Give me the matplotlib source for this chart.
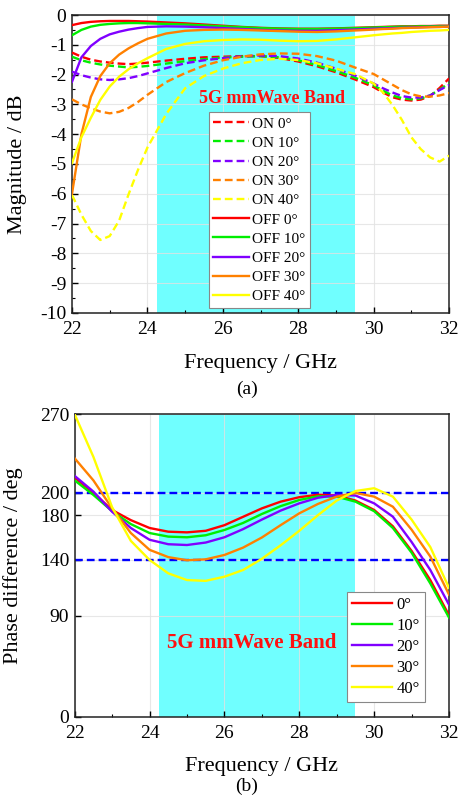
import numpy as np
import matplotlib
matplotlib.use("Agg")
import matplotlib.pyplot as plt
from matplotlib.ticker import MultipleLocator, FixedLocator

plt.rcParams['font.family'] = ['Liberation Serif', 'DejaVu Serif']
plt.rcParams['axes.unicode_minus'] = False

# ---------------- data: (a) magnitude ----------------
freq_a = [22, 22.25, 22.5, 22.75, 23, 23.25, 23.5, 23.75, 24,
          24.5, 25, 25.5, 26, 26.5, 27, 27.5, 28, 28.5, 29, 29.5,
          30, 30.25, 30.5, 30.75, 31, 31.25, 31.5, 31.75, 32]

on_0 = [-1.26, -1.40, -1.50, -1.56, -1.60, -1.63, -1.65, -1.63, -1.60,
        -1.53, -1.47, -1.42, -1.40, -1.38, -1.38, -1.44, -1.56, -1.72, -1.92, -2.16,
        -2.42, -2.60, -2.76, -2.84, -2.87, -2.84, -2.72, -2.45, -2.13]
on_10 = [-1.40, -1.52, -1.60, -1.66, -1.70, -1.73, -1.76, -1.74, -1.71,
         -1.63, -1.55, -1.48, -1.43, -1.40, -1.38, -1.42, -1.52, -1.68, -1.88, -2.10,
         -2.36, -2.54, -2.70, -2.79, -2.83, -2.80, -2.70, -2.50, -2.30]
on_20 = [-1.90, -2.02, -2.10, -2.16, -2.18, -2.16, -2.12, -2.05, -1.96,
         -1.78, -1.62, -1.52, -1.45, -1.39, -1.36, -1.38, -1.46, -1.60, -1.80, -2.03,
         -2.30, -2.46, -2.60, -2.72, -2.77, -2.77, -2.70, -2.52, -2.35]
on_30 = [-2.83, -3.00, -3.13, -3.24, -3.30, -3.25, -3.12, -2.92, -2.68,
         -2.25, -1.95, -1.70, -1.52, -1.40, -1.32, -1.29, -1.30, -1.38, -1.53, -1.76,
         -1.98, -2.16, -2.34, -2.52, -2.66, -2.73, -2.74, -2.70, -2.62]
on_40 = [-6.04, -6.70, -7.25, -7.55, -7.42, -6.90, -6.02, -5.20, -4.45,
         -3.32, -2.46, -2.05, -1.80, -1.62, -1.51, -1.47, -1.51, -1.62, -1.80, -1.98,
         -2.30, -2.60, -3.02, -3.52, -4.10, -4.50, -4.78, -4.92, -4.72]

off_0 = [-0.34, -0.27, -0.23, -0.21, -0.20, -0.20, -0.20, -0.21, -0.22,
         -0.25, -0.28, -0.32, -0.36, -0.40, -0.43, -0.45, -0.46, -0.46, -0.45, -0.43,
         -0.41, -0.40, -0.39, -0.38, -0.38, -0.37, -0.37, -0.36, -0.36]
off_10 = [-0.68, -0.50, -0.39, -0.33, -0.30, -0.28, -0.27, -0.27, -0.28,
          -0.30, -0.32, -0.35, -0.38, -0.41, -0.44, -0.46, -0.47, -0.47, -0.46, -0.44,
          -0.42, -0.41, -0.40, -0.39, -0.39, -0.38, -0.38, -0.37, -0.37]
off_20 = [-2.24, -1.42, -1.04, -0.80, -0.65, -0.56, -0.49, -0.44, -0.40,
          -0.38, -0.39, -0.41, -0.44, -0.47, -0.50, -0.52, -0.53, -0.53, -0.51, -0.49,
          -0.46, -0.45, -0.44, -0.43, -0.42, -0.41, -0.40, -0.40, -0.39]
off_30 = [-6.00, -4.00, -2.75, -2.05, -1.62, -1.33, -1.12, -0.95, -0.80,
          -0.62, -0.53, -0.50, -0.49, -0.50, -0.52, -0.54, -0.56, -0.57, -0.55, -0.52,
          -0.49, -0.47, -0.46, -0.44, -0.43, -0.42, -0.41, -0.40, -0.39]
off_40 = [-4.97, -4.10, -3.45, -2.85, -2.40, -2.07, -1.82, -1.62, -1.45,
          -1.14, -0.97, -0.88, -0.84, -0.82, -0.83, -0.86, -0.88, -0.87, -0.82, -0.75,
          -0.68, -0.65, -0.62, -0.60, -0.57, -0.55, -0.53, -0.52, -0.50]

angle_labels = ['0°', '10°', '20°', '30°', '40°']
colors = ['#ff0000', '#00ee00', '#8000ff', '#ff8000', '#ffff00']

# ---------------- data: (b) phase difference ----------------
freq_b = [22, 22.5, 23, 23.5, 24, 24.5, 25, 25.5, 26, 26.5, 27,
          27.5, 28, 28.5, 29, 29.5, 30, 30.5, 31, 31.5, 32]

phase_0 = [213.5, 200, 184.5, 175.5, 168.5, 165.2, 164.6, 166, 171, 178.5, 186,
           192, 196, 198.2, 197.5, 193, 184.6, 170, 148, 122, 90.5]
phase_10 = [211, 198, 183.5, 172, 164, 160.8, 160.2, 162, 166.7, 173, 181,
            188, 193.5, 196.8, 196.5, 192, 183.5, 168.5, 146.5, 119, 88.5]
phase_20 = [215, 201, 183, 168.5, 158, 154, 153.3, 155.5, 160.2, 167.5, 176,
            184, 190.5, 195.5, 198, 197.5, 190.5, 178.6, 156, 131, 100]
phase_30 = [230.7, 211, 186, 164, 149, 142.5, 139.7, 140.5, 144.4, 151, 160,
            171, 181.6, 190, 196.5, 199.8, 196.5, 187.5, 167, 143, 109]
phase_40 = [270, 232, 187, 157, 140, 128, 122, 121.3, 125, 131, 141,
            153, 166, 180, 193, 201.5, 204, 196.5, 176, 151.5, 115]

band = (24.25, 29.5)
phase_limits = [140, 200]
phase_ticks = [0, 90, 140, 180, 200, 270]

band_color = '#70ffff'
grid_color = '#e2e2e2'
dash = (3.3, 1.7)
lw = 1.7

fig = plt.figure(figsize=(4.63, 7.98), dpi=100)
ax1 = fig.add_axes([0.1555, 0.6078, 0.8143, 0.3734])
ax2 = fig.add_axes([0.1613, 0.1019, 0.8085, 0.3789])


def style_axes(ax):
    ax.axvspan(*band, color=band_color, zorder=0, lw=0)
    ax.grid(True, color=grid_color, lw=0.8, zorder=0.5, alpha=0.8)
    ax.set_axisbelow(True)
    ax.tick_params(which='both', direction='in', top=False, right=False,
                   labelsize=14, pad=4)
    ax.tick_params(axis='x', which='major', pad=6)
    ax.tick_params(which='major', length=4, width=1)
    ax.tick_params(which='minor', length=2.5, width=0.8)
    for s in ax.spines.values():
        s.set_linewidth(1.1)
        s.set_color('#222222')
    ax.xaxis.set_major_locator(MultipleLocator(2))
    ax.xaxis.set_minor_locator(MultipleLocator(1))
    ax.set_xlim(22, 32)
    ax.set_xlabel('Frequency / GHz', fontsize=16, labelpad=11)


# ----- (a) -----
style_axes(ax1)
on_series = [on_0, on_10, on_20, on_30, on_40]
off_series = [off_0, off_10, off_20, off_30, off_40]
for lab, c, y in zip(angle_labels, colors, on_series):
    ax1.plot(freq_a, y, color=c, lw=lw, dashes=dash, label='ON ' + lab, zorder=3)
for lab, c, y in zip(angle_labels, colors, off_series):
    ax1.plot(freq_a, y, color=c, lw=lw, label='OFF ' + lab, zorder=3)
ax1.set_ylim(-10, 0)
ax1.yaxis.set_major_locator(MultipleLocator(1))
ax1.yaxis.set_minor_locator(MultipleLocator(0.5))
ax1.set_ylabel('Magnitude / dB', fontsize=16)
ax1.yaxis.set_label_coords(-0.119, 0.5)
ax1.text(27.3, -2.79, '5G mmWave Band', color='#ff1010', fontsize=13,
         fontweight='bold', ha='center', va='center', zorder=4)
leg1 = ax1.legend(loc='lower left', bbox_to_anchor=(0.363, 0.017), fontsize=11,
                  frameon=True, fancybox=False, edgecolor='#888888', framealpha=1,
                  handlelength=2.3, handletextpad=0.25, labelspacing=0.36,
                  borderpad=0.3, borderaxespad=0)
leg1.get_frame().set_linewidth(0.8)
leg1.set_zorder(5)

# ----- (b) -----
style_axes(ax2)
for y0 in phase_limits:
    ax2.axhline(y0, color='#0000ff', lw=lw, dashes=dash, zorder=2)
phase_series = [phase_0, phase_10, phase_20, phase_30, phase_40]
for lab, c, y in zip(angle_labels, colors, phase_series):
    ax2.plot(freq_b, y, color=c, lw=lw, label=lab, zorder=3)
ax2.set_ylim(0, 270)
ax2.yaxis.set_major_locator(FixedLocator(phase_ticks))
ax2.set_ylabel('Phase difference / deg', fontsize=16)
ax2.yaxis.set_label_coords(-0.138, 0.5)
ax2.text(26.74, 65.8, '5G mmWave Band', color='#ff1010', fontsize=15,
         fontweight='bold', ha='center', va='center', zorder=4)
leg2 = ax2.legend(loc='lower left', bbox_to_anchor=(0.7275, 0.0486), fontsize=12,
                  frameon=True, fancybox=False, edgecolor='#888888', framealpha=1,
                  handlelength=2.4, handletextpad=0.25, labelspacing=0.3,
                  borderpad=0.3, borderaxespad=0)
leg2.get_frame().set_linewidth(0.8)
leg2.set_zorder(5)

fig.text(0.533, 1 - 389 / 798, '(a)', fontsize=14, ha='center', va='center')
fig.text(0.533, 1 - 786 / 798, '(b)', fontsize=14, ha='center', va='center')

fig.savefig('out.png', dpi=100)
